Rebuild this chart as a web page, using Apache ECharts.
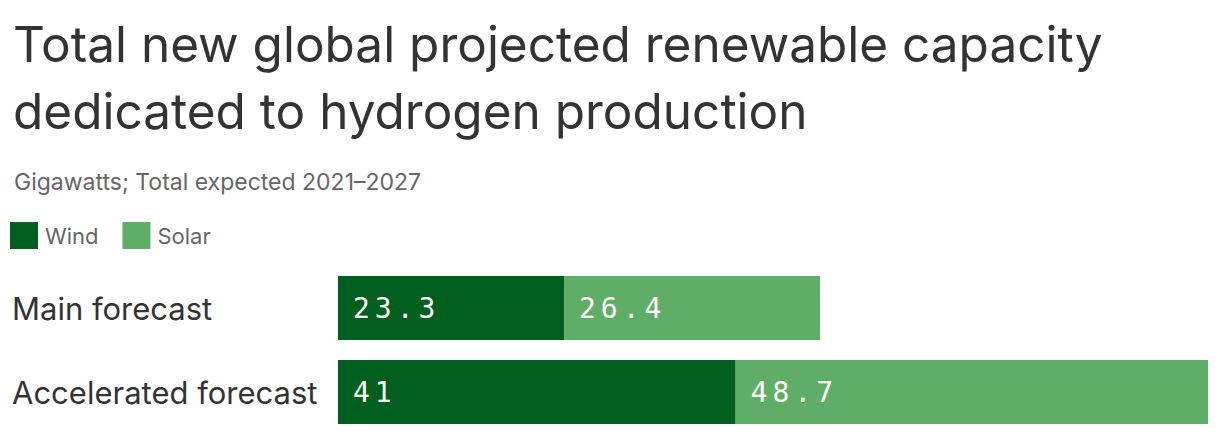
<!DOCTYPE html>
<html><head><meta charset="utf-8">
<script src="https://cdn.jsdelivr.net/npm/echarts@6/dist/echarts.min.js"></script>
<style>html,body{margin:0;padding:0;background:#fff}#c{width:1220px;height:436px}
#c text[style*="Mono"], #c text[font-family*="Mono"]{letter-spacing:5px}</style>
</head><body><div id="c"></div>
<script>
const categories = ['Main forecast', 'Accelerated forecast'];
const wind = [23.3, 41];
const solar = [26.4, 48.7];
const seriesNames = ['Wind', 'Solar'];

const maxTotal = Math.max(...categories.map((_, i) => wind[i] + solar[i]));
const chart = echarts.init(document.getElementById('c'), null, { renderer: 'svg' });
const labelStyle = {
  show: true, position: 'insideLeft', distance: 15,
  color: '#fff', fontFamily: 'DejaVu Sans Mono', fontSize: 28
};
chart.setOption({
  animation: false,
  textStyle: { fontFamily: 'Inter' },
  title: [{
    text: 'Total new global projected renewable capacity\ndedicated to hydrogen production',
    left: 8, top: 5,
    textStyle: { fontFamily: 'Inter', fontSize: 49.5, fontWeight: 'normal', color: '#333', lineHeight: 67 }
  }, {
    text: 'Gigawatts; Total expected 2021–2027',
    left: 9, top: 165,
    textStyle: { fontFamily: 'Inter', fontSize: 23, fontWeight: 'normal', color: '#666' }
  }],
  legend: {
    left: 10, top: 222, padding: 0, itemWidth: 28, itemHeight: 27, itemGap: 24,
    icon: 'rect',
    textStyle: { fontFamily: 'Inter', fontSize: 22, color: '#666', padding: [0, 0, 0, 2] },
    data: seriesNames
  },
  grid: { left: 338, right: 12, top: 266, height: 168 },
  xAxis: { type: 'value', min: 0, max: maxTotal, show: false },
  yAxis: {
    type: 'category', data: categories, inverse: true,
    axisLine: { show: false }, axisTick: { show: false },
    axisLabel: { align: 'left', margin: 326, color: '#333', fontFamily: 'Inter', fontSize: 31 }
  },
  series: [
    { name: seriesNames[0], type: 'bar', stack: 't', data: wind, barWidth: 64,
      itemStyle: { color: '#005f1e' }, label: labelStyle },
    { name: seriesNames[1], type: 'bar', stack: 't', data: solar, barWidth: 64,
      itemStyle: { color: '#60ad68' }, label: labelStyle }
  ]
});
</script></body></html>
